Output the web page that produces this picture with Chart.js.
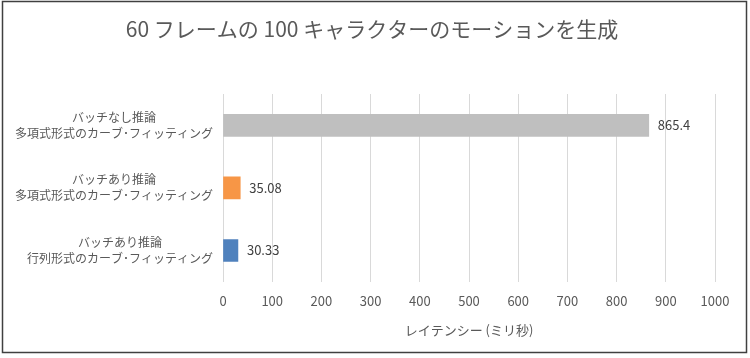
<!DOCTYPE html>
<html><head><meta charset="utf-8">
<script src="https://cdn.jsdelivr.net/npm/chart.js@4/dist/chart.umd.min.js"></script>
<style>html,body{margin:0;padding:0;background:#fff;}#wrap{width:750px;height:358px;position:relative;}</style>
</head><body><div id="wrap"><canvas id="c" width="750" height="358"></canvas></div>
<script>
const title = "60 フレームの 100 キャラクターのモーションを生成";
const categories = [
  ["バッチなし推論", "多項式形式のカーブ･フィッティング"],
  ["バッチあり推論", "多項式形式のカーブ･フィッティング"],
  ["バッチあり推論", "行列形式のカーブ･フィッティング"]
];
const latencyValues = [865.4, 35.08, 30.33];
const valueLabels = ["865.4", "35.08", "30.33"];
const barColors = ["#BFBFBF", "#F79646", "#4F81BD"];
const xAxisTitle = "レイテンシー (ミリ秒)";
const xMin = 0, xMax = 1000, xStep = 100;

const FONT = "'Noto Sans CJK JP', 'Noto Sans', sans-serif";

const framePlugin = {
  id: 'frame',
  beforeDraw(chart) {
    const ctx = chart.ctx;
    ctx.save();
    ctx.fillStyle = '#fff';
    ctx.fillRect(0, 0, chart.width, chart.height);
    ctx.strokeStyle = '#404040';
    ctx.lineWidth = 1.5;
    ctx.strokeRect(2.5, 1.5, 744, 351);
    ctx.font = "21px " + FONT;
    ctx.fillStyle = '#595959';
    ctx.textAlign = 'center';
    ctx.textBaseline = 'middle';
    ctx.fillText(title, 372, 29);
    ctx.restore();
  }
};
const labelPlugin = {
  id: 'vlabels',
  afterDatasetsDraw(chart) {
    const ctx = chart.ctx;
    const meta = chart.getDatasetMeta(0);
    ctx.save();
    ctx.font = "13px " + FONT;
    ctx.fillStyle = '#404040';
    ctx.textAlign = 'left';
    ctx.textBaseline = 'middle';
    meta.data.forEach((bar, i) => {
      ctx.fillText(valueLabels[i], bar.x + 9, bar.y);
    });
    const yScale = chart.scales.y;
    const rightEdge = yScale.right - 10;
    ctx.font = "12px " + FONT;
    ctx.fillStyle = '#595959';
    ctx.textAlign = 'center';
    categories.forEach((lines, i) => {
      const yc = yScale.getPixelForTick(i);
      const w = Math.max(...lines.map(l => ctx.measureText(l).width));
      const cx = rightEdge - w / 2;
      const lh = 16;
      const y0 = yc - (lines.length - 1) * lh / 2;
      lines.forEach((l, j) => ctx.fillText(l, cx, y0 + j * lh));
    });
    ctx.restore();
  }
};

new Chart(document.getElementById('c'), {
  type: 'bar',
  data: {
    labels: categories,
    datasets: [{
      data: latencyValues,
      backgroundColor: barColors,
      barThickness: 22
    }]
  },
  plugins: [framePlugin, labelPlugin],
  options: {
    indexAxis: 'y',
    responsive: false,
    animation: false,
    devicePixelRatio: 1,
    layout: { padding: { top: 94, right: 35, bottom: 16, left: 0 } },
    plugins: {
      legend: { display: false },
      tooltip: { enabled: false },
      title: { display: false }
    },
    scales: {
      x: {
        min: xMin, max: xMax,
        ticks: { stepSize: xStep, color: '#595959', font: { family: FONT, size: 13 }, padding: 11,
                 callback: (v) => String(v) },
        grid: { color: '#D9D9D9', drawTicks: false },
        border: { display: false },
        title: { display: true, text: xAxisTitle, color: '#595959', font: { family: FONT, size: 13 }, padding: { top: 3 } }
      },
      y: {
        ticks: { display: false },
        grid: { display: false, drawTicks: false },
        border: { display: false },
        afterFit(scale) { scale.width = 223; }
      }
    }
  }
});
</script></body></html>
